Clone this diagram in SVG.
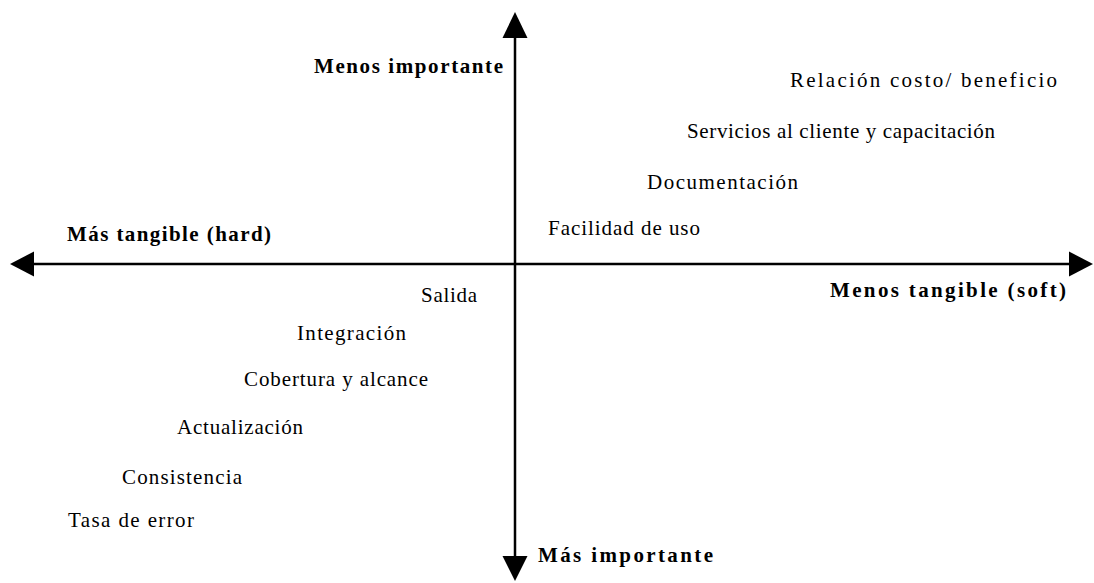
<svg xmlns="http://www.w3.org/2000/svg" width="1094" height="583" viewBox="0 0 1094 583">
<style>
.t{font-family:"Liberation Serif","Times New Roman",serif;font-size:21px;fill:#000}
.b{font-weight:bold;font-size:21px}
.ax{stroke:#000;stroke-width:2.5;fill:none}
.hd{fill:#000}
</style>
<rect width="1094" height="583" fill="#fff"/>
<g id="connectors">
<line class="ax" x1="30" y1="264" x2="1072" y2="264"/>
<line class="ax" x1="515" y1="36" x2="515" y2="560"/>
<polygon class="hd" points="10,264 34,251.5 34,276.5"/>
<polygon class="hd" points="1093,264 1069,251.5 1069,276.5"/>
<polygon class="hd" points="515,12 502.5,38 527.5,38"/>
<polygon class="hd" points="515,581 502.5,556 527.5,556"/>
</g>
<g id="n-menos-importante"><text class="t b" x="314" y="73" textLength="189">Menos importante</text></g>
<g id="n-mas-importante"><text class="t b" x="538" y="562" textLength="175">Más importante</text></g>
<g id="n-mas-tangible"><text class="t b" x="67" y="241" textLength="204">Más tangible (hard)</text></g>
<g id="n-menos-tangible"><text class="t b" x="830" y="297" textLength="236">Menos tangible (soft)</text></g>
<g id="n-relacion"><text class="t" x="790" y="87" textLength="267">Relación costo/ beneficio</text></g>
<g id="n-servicios"><text class="t" x="687" y="138" textLength="308">Servicios al cliente y capacitación</text></g>
<g id="n-documentacion"><text class="t" x="647" y="189" textLength="151">Documentación</text></g>
<g id="n-facilidad"><text class="t" x="548" y="235" textLength="152">Facilidad de uso</text></g>
<g id="n-salida"><text class="t" x="421" y="302" textLength="56">Salida</text></g>
<g id="n-integracion"><text class="t" x="297" y="340" textLength="109">Integración</text></g>
<g id="n-cobertura"><text class="t" x="244" y="386" textLength="184">Cobertura y alcance</text></g>
<g id="n-actualizacion"><text class="t" x="177" y="434" textLength="126">Actualización</text></g>
<g id="n-consistencia"><text class="t" x="122" y="484" textLength="120">Consistencia</text></g>
<g id="n-tasa"><text class="t" x="68" y="527" textLength="126">Tasa de error</text></g>
</svg>
